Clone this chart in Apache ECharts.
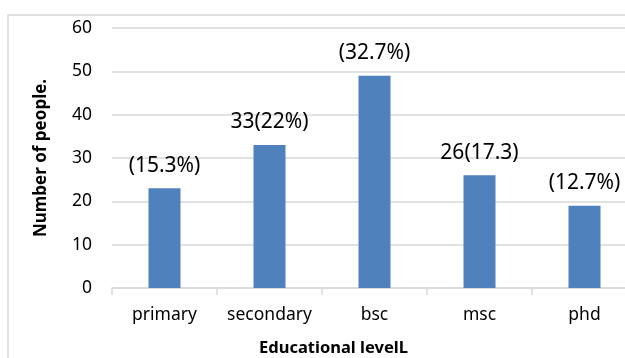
<!DOCTYPE html>
<html>
<head>
<meta charset="utf-8">
<script src="https://cdn.jsdelivr.net/npm/echarts@6/dist/echarts.min.js"></script>
<style>
  html, body { margin: 0; padding: 0; background: #fff; }
  #chart { width: 625px; height: 358px; }
</style>
</head>
<body>
<div id="chart"></div>
<script>
// Education level survey: head count per level with share labels
const categories = ['primary', 'secondary', 'bsc', 'msc', 'phd'];
const counts = [23, 33, 49, 26, 19];
const valueLabels = ['(15.3%)', '33(22%)', '(32.7%)', '26(17.3)', '(12.7%)'];
const yTicks = [0, 10, 20, 30, 40, 50, 60];

const FONT = '"Noto Sans", "Open Sans", sans-serif';
const chart = echarts.init(document.getElementById('chart'), null, { renderer: 'canvas' });

chart.setOption({
  animation: false,
  backgroundColor: '#fff',
  graphic: [{
    type: 'rect',
    shape: { x: 8, y: 15, width: 700, height: 400 },
    style: { fill: 'none', stroke: '#d9d9d9', lineWidth: 1.5 },
    silent: true,
    z: -10
  }],
  grid: {
    left: 112, right: -12, top: 28, bottom: 70,
    containLabel: false,
    outerBoundsMode: 'none'
  },
  xAxis: {
    type: 'category',
    data: categories,
    name: 'Educational levelL',
    nameLocation: 'middle',
    nameGap: 52,
    nameTextStyle: {
      fontFamily: FONT, fontSize: 16.5, fontWeight: 'bold', color: '#000',
      padding: [0, 82, 0, 0]
    },
    axisLine: { lineStyle: { color: '#d9d9d9', width: 1.5 } },
    axisTick: { show: true, length: 7, lineStyle: { color: '#d9d9d9', width: 1.5 } },
    axisLabel: { interval: 0, fontFamily: FONT, fontSize: 17.5, color: '#000', margin: 18 }
  },
  yAxis: {
    type: 'value',
    min: yTicks[0],
    max: yTicks[yTicks.length - 1],
    interval: 10,
    name: 'Number of people.',
    nameLocation: 'middle',
    nameGap: 62,
    nameTextStyle: { fontFamily: FONT, fontSize: 17, fontWeight: 'bold', color: '#000' },
    axisLine: { show: false },
    axisTick: { show: false },
    axisLabel: { fontFamily: FONT, fontSize: 17.5, color: '#000', margin: 20 },
    splitLine: { lineStyle: { color: '#d9d9d9', width: 1.5 } }
  },
  series: [{
    type: 'bar',
    data: counts,
    barWidth: 32,
    itemStyle: { color: '#4f81bd' },
    label: {
      show: true,
      position: 'top',
      distance: 12,
      fontFamily: FONT,
      fontSize: 21,
      color: '#000',
      formatter: (p) => valueLabels[p.dataIndex]
    }
  }]
});
</script>
</body>
</html>
